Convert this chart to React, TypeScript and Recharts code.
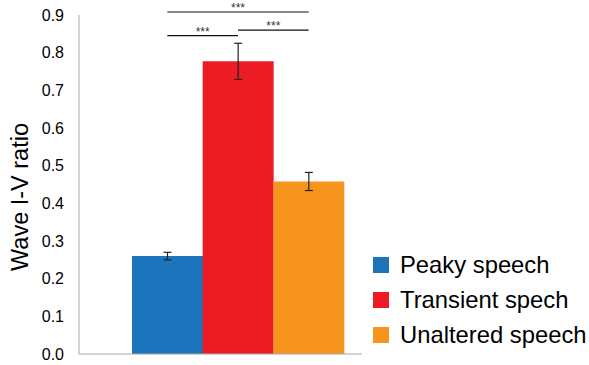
import React from 'react';
import { BarChart, Bar, XAxis, YAxis, Cell, ErrorBar, ReferenceLine } from 'recharts';

const categories = ['Peaky speech', 'Transient spech', 'Unaltered speech'];
const ratios = [0.26, 0.777, 0.458];
const errors = [0.01, 0.048, 0.024];
const colors = ['#1C75BC', '#ED1C24', '#F7941D'];
const yTicks = [0, 0.1, 0.2, 0.3, 0.4, 0.5, 0.6, 0.7, 0.8, 0.9];
const sigLines = [
  { from: 'Peaky speech', to: 'Unaltered speech', y: 0.908, label: '***' },
  { from: 'Peaky speech', to: 'Transient spech', y: 0.8455, label: '***' },
  { from: 'Transient spech', to: 'Unaltered speech', y: 0.86, label: '***' },
];

const data = categories.map((name, i) => ({ name, value: ratios[i], err: errors[i] }));

const FONT = '"Liberation Sans", Arial, sans-serif';

const YLabel = () => (
  <text
    x={20}
    y={197}
    transform="rotate(-90 20 197)"
    textAnchor="middle"
    dominantBaseline="central"
    fontFamily={FONT}
    fontSize={23.5}
    fill="#000"
  >
    Wave I-V ratio
  </text>
);

const LegendBox = () => (
  <div
    style={{
      position: 'absolute',
      left: 373,
      top: 247,
      width: 216,
      fontFamily: FONT,
      fontSize: 23.8,
      color: '#000',
    }}
  >
    {categories.map((c, i) => (
      <div key={c} style={{ display: 'flex', alignItems: 'center', height: 35 }}>
        <div style={{ width: 16, height: 16, background: colors[i], marginRight: 11 }} />
        <span style={{ whiteSpace: 'nowrap' }}>{c}</span>
      </div>
    ))}
  </div>
);

export default function App() {
  return (
    <div style={{ position: 'absolute', left: 0, top: 0, width: 589, height: 365, background: '#fff' }}>
      <BarChart
        width={589}
        height={365}
        data={data}
        margin={{ top: 15, right: 227, bottom: 10, left: 0 }}
        barCategoryGap={0}
      >
        <XAxis
          dataKey="name"
          type="category"
          height={1}
          tick={false}
          tickLine={false}
          axisLine={{ stroke: '#a6a6a6', strokeWidth: 1 }}
          padding={{ left: 53, right: 18 }}
        />
        <YAxis
          width={79}
          domain={[0, 0.9]}
          ticks={yTicks}
          interval={0}
          tickFormatter={(v: number) => v.toFixed(1)}
          tickLine={false}
          tickSize={0}
          tickMargin={15}
          axisLine={{ stroke: '#a6a6a6', strokeWidth: 1 }}
          tick={{ fill: '#000', fontFamily: FONT, fontSize: 16 }}
          label={<YLabel />}
        />
        <Bar dataKey="value" isAnimationActive={false}>
          {data.map((d, i) => (
            <Cell key={d.name} fill={colors[i]} />
          ))}
          <ErrorBar dataKey="err" width={4} stroke="#222" strokeWidth={1.2} />
        </Bar>
        {sigLines.map((s, i) => (
          <ReferenceLine
            key={i}
            segment={[
              { x: s.from, y: s.y },
              { x: s.to, y: s.y },
            ]}
            ifOverflow="visible"
            stroke="#111"
            strokeWidth={1.2}
            label={{ value: s.label, position: 'top', offset: 0, fontSize: 12, fill: '#333', fontFamily: FONT }}
          />
        ))}
      </BarChart>
      <LegendBox />
    </div>
  );
}
